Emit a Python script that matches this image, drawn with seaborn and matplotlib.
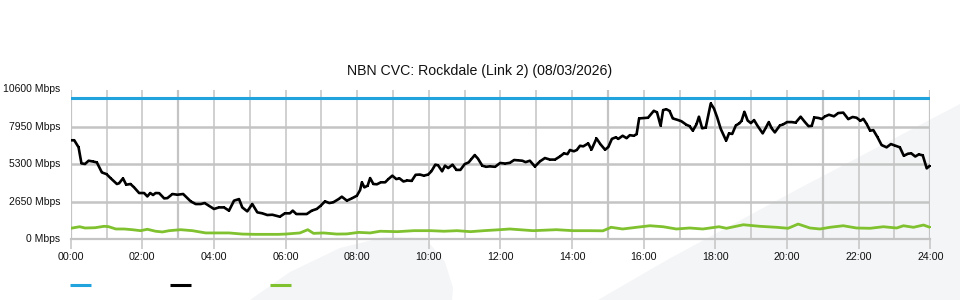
import matplotlib
matplotlib.use("Agg")
import matplotlib.pyplot as plt
from matplotlib.lines import Line2D
from matplotlib.patches import Polygon
import seaborn as sns
import pandas as pd

# ---------------- data ----------------
capacity_mbps = 10000

traffic_hours = [0.0, 0.1, 0.22, 0.3, 0.4, 0.5, 0.61, 0.73, 0.87, 1.0, 1.12, 1.29, 1.35, 1.46, 1.55,
                 1.67, 1.77, 1.91, 2.05, 2.14, 2.22, 2.3, 2.37, 2.47, 2.61, 2.7, 2.84, 2.98, 3.14,
                 3.35, 3.49, 3.63, 3.74, 3.86, 4.0, 4.14, 4.28, 4.42, 4.56, 4.7, 4.79, 4.93, 5.07,
                 5.21, 5.35, 5.49, 5.63, 5.84, 5.98, 6.12, 6.2, 6.3, 6.45, 6.59, 6.73, 6.87, 6.98,
                 7.1, 7.22, 7.33, 7.48, 7.57, 7.71, 7.85, 7.99, 8.08, 8.13, 8.2, 8.29, 8.36, 8.45,
                 8.55, 8.66, 8.78, 8.87, 8.98, 9.09, 9.18, 9.29, 9.4, 9.52, 9.63, 9.75, 9.86, 9.98,
                 10.07, 10.18, 10.26, 10.37, 10.45, 10.54, 10.66, 10.77, 10.88, 11.0, 11.11, 11.19,
                 11.28, 11.37, 11.49, 11.6, 11.7, 11.85, 11.99, 12.13, 12.26, 12.38, 12.5, 12.61,
                 12.7, 12.82, 12.96, 13.1, 13.24, 13.38, 13.52, 13.66, 13.77, 13.87, 13.94, 14.05,
                 14.13, 14.22, 14.31, 14.45, 14.54, 14.68, 14.79, 14.92, 15.01, 15.11, 15.22, 15.29,
                 15.41, 15.52, 15.61, 15.72, 15.8, 15.87, 15.98, 16.12, 16.28, 16.37, 16.47, 16.54,
                 16.63, 16.72, 16.81, 16.95, 17.05, 17.19, 17.28, 17.37, 17.47, 17.54, 17.63, 17.73,
                 17.87, 17.96, 18.05, 18.15, 18.3, 18.38, 18.47, 18.57, 18.67, 18.73, 18.81, 18.9,
                 18.99, 19.08, 19.17, 19.32, 19.41, 19.49, 19.57, 19.66, 19.8, 19.89, 20.0, 20.13,
                 20.24, 20.38, 20.5, 20.6, 20.69, 20.76, 20.88, 20.97, 21.06, 21.17, 21.31, 21.43,
                 21.57, 21.71, 21.83, 21.94, 22.05, 22.13, 22.22, 22.32, 22.41, 22.53, 22.64, 22.78,
                 22.9, 23.02, 23.15, 23.26, 23.38, 23.47, 23.58, 23.68, 23.79, 23.9, 23.99]
traffic_mbps = [7000, 7000, 6500, 5360, 5320, 5550, 5500, 5430, 4720, 4600, 4300, 3900, 3950,
                4300, 3850, 3900, 3660, 3260, 3260, 3020, 3260, 3120, 3260, 3250, 2880, 2900,
                3190, 3140, 3190, 2670, 2480, 2480, 2550, 2360, 2130, 2240, 2240, 2010, 2720,
                2830, 2240, 1960, 2480, 1890, 1820, 1700, 1720, 1580, 1820, 1820, 2010, 1770,
                1770, 1770, 2010, 2130, 2360, 2670, 2550, 2600, 2830, 3000, 2720, 2880, 3070,
                3470, 4020, 3660, 3780, 4320, 3900, 3880, 4020, 4020, 4250, 4490, 4250, 4300,
                4080, 4150, 4120, 4550, 4570, 4490, 4570, 4800, 5270, 5220, 4800, 5200, 5030,
                5270, 4900, 4900, 5310, 5430, 5670, 5950, 5700, 5200, 5120, 5150, 5120, 5390,
                5350, 5400, 5600, 5570, 5550, 5450, 5550, 5140, 5500, 5740, 5630, 5630, 5850,
                6070, 6020, 6310, 6220, 6310, 6610, 6570, 6780, 6330, 7130, 6720, 6330, 6520,
                7100, 7210, 7100, 7320, 7150, 7360, 7320, 7430, 8550, 8570, 8600, 9090, 8980,
                8030, 9140, 9200, 9080, 8550, 8440, 8350, 8100, 8000, 7680, 8120, 8670, 7850,
                7900, 9610, 9250, 8620, 7800, 6970, 7490, 7450, 8050, 8200, 8380, 9020, 8400,
                8220, 8430, 8050, 7490, 7900, 8290, 7850, 7560, 8050, 8120, 8290, 8290, 8250,
                8670, 8290, 8000, 8020, 8620, 8580, 8510, 8690, 8810, 8700, 8930, 8960, 8500,
                8650, 8600, 8380, 8520, 8170, 7680, 7720, 7200, 6660, 6500, 6730, 6620, 6500,
                5900, 6050, 6070, 5850, 6000, 5930, 5010, 5200]

usage_hours = [0.0, 0.25, 0.4, 0.68, 0.93, 1.05, 1.26, 1.49, 1.72, 1.95, 2.14, 2.37, 2.56, 2.75,
               3.07, 3.4, 3.77, 4.05, 4.42, 4.79, 5.16, 5.8, 6.0, 6.4, 6.62, 6.78, 7.06, 7.43,
               7.71, 8.04, 8.36, 8.64, 9.12, 9.58, 10.05, 10.42, 10.79, 11.16, 11.53, 11.98,
               12.26, 12.91, 13.56, 14.03, 14.49, 14.86, 15.09, 15.41, 15.8, 16.17, 16.54,
               16.91, 17.28, 17.65, 18.1, 18.31, 18.78, 19.24, 19.71, 20.03, 20.31, 20.64,
               20.92, 21.2, 21.57, 21.94, 22.32, 22.69, 23.06, 23.25, 23.53, 23.81, 23.99]
usage_mbps = [760, 870, 780, 800, 900, 880, 710, 710, 660, 590, 690, 550, 500, 590, 660, 590,
              430, 430, 430, 350, 330, 330, 350, 430, 660, 400, 430, 350, 360, 470, 430, 550,
              520, 590, 590, 550, 590, 520, 590, 660, 710, 590, 660, 590, 590, 580, 830, 710,
              830, 940, 870, 710, 780, 710, 870, 760, 1010, 900, 830, 760, 1060, 780, 710, 830,
              940, 780, 760, 870, 780, 940, 830, 990, 830]

y_ticks = [0, 2650, 5300, 7950, 10600]
y_tick_labels = ["0 Mbps", "2650 Mbps", "5300 Mbps", "7950 Mbps", "10600 Mbps"]
x_ticks = list(range(0, 25, 2))
x_tick_labels = ["%02d:00" % h for h in x_ticks]
title = "NBN CVC: Rockdale (Link 2) (08/03/2026)"

# ---------------- style ----------------
sns.set_style("white")
plt.rcParams["font.family"] = ["Liberation Sans", "DejaVu Sans"]

BLUE = "#21a4de"
BLACK = "#000000"
GREEN = "#7fc12e"
GRID = "#c4c4c4"

fig = plt.figure(figsize=(9.6, 3.0), dpi=100)
fig.patch.set_facecolor("white")

# faint watermark shapes (figure pixel coords -> fraction)
def px(pts):
    return [(x / 960.0, 1 - y / 300.0) for x, y in pts]

wm = "#f4f5f7"
fig.add_artist(Polygon(px([(250, 300), (290, 272), (340, 248), (385, 237), (425, 238),
                           (445, 262), (453, 288), (452, 300)]),
                       closed=True, facecolor=wm, edgecolor="none", zorder=0))
fig.add_artist(Polygon(px([(598, 300), (667, 260), (800, 188), (960, 104), (960, 300)]),
                       closed=True, facecolor=wm, edgecolor="none", zorder=0))

ax = fig.add_axes([70.7 / 960, 1 - 239 / 300, (930.3 - 70.7) / 960, 149.5 / 300])
ax.set_facecolor("none")
ax.set_zorder(1)

df_cap = pd.DataFrame({"h": [0, 24], "v": [capacity_mbps, capacity_mbps]})
df_traffic = pd.DataFrame({"h": traffic_hours, "v": traffic_mbps})
df_usage = pd.DataFrame({"h": usage_hours, "v": usage_mbps})

sns.lineplot(data=df_cap, x="h", y="v", ax=ax, color=BLUE, linewidth=2.2, zorder=4)
sns.lineplot(data=df_traffic, x="h", y="v", ax=ax, color=BLACK, linewidth=1.9, zorder=5,
             marker="s", markersize=1.6, markeredgewidth=0)
sns.lineplot(data=df_usage, x="h", y="v", ax=ax, color=GREEN, linewidth=2.0, zorder=4,
             marker="s", markersize=1.6, markeredgewidth=0)

ax.set_xlim(0, 24)
ax.set_ylim(0, 10600)
ax.set_xlabel("")
ax.set_ylabel("")

# gridlines
for h in range(0, 25):
    ax.axvline(h, color=GRID, linewidth=1.6 if h in (0, 3, 15, 21, 24) else 1.1, zorder=1)
for v in y_ticks[1:-1]:
    ax.axhline(v, color=GRID, linewidth=1.8, zorder=1)

for s in ["top", "right", "left"]:
    ax.spines[s].set_visible(False)
ax.spines["bottom"].set_color(GRID)
ax.spines["bottom"].set_linewidth(1.6)

ax.set_xticks(x_ticks)
ax.set_xticklabels(x_tick_labels, fontsize=7.7, color="#111111")
ax.tick_params(axis="x", length=7.5, width=1.1, color=GRID, pad=2, bottom=True)
ax.set_yticks(y_ticks)
ax.set_yticklabels(y_tick_labels, fontsize=7.5, color="#111111")
ax.tick_params(axis="y", length=0, pad=7.5, left=True)
for lbl in ax.get_yticklabels():
    lbl.set_verticalalignment("center")
    lbl.set_y(lbl.get_position()[1])

fig.text(0.5, 1 - 71 / 300, title, ha="center", va="center", fontsize=10.2, color="#111111")

# legend swatches without labels
for x0, c in [(70, BLUE), (170, BLACK), (270, GREEN)]:
    fig.add_artist(Line2D([x0 / 960, (x0 + 21) / 960], [1 - 285 / 300, 1 - 285 / 300],
                          color=c, linewidth=2.2, solid_capstyle="butt"))

fig.savefig("out.png", dpi=100, facecolor="white")
